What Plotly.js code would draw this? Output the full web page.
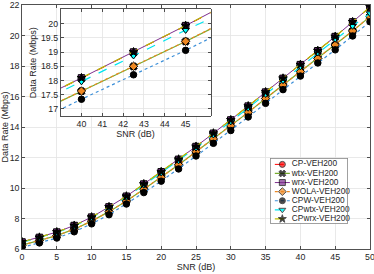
<!DOCTYPE html>
<html><head><meta charset="utf-8">
<script src="https://cdn.plot.ly/plotly-3.0.1.min.js"></script>
<style>html,body{margin:0;padding:0;background:#fff}#c{width:374px;height:274px}</style>
</head><body><div id="c"></div>
<script>
var snr = [0,2.5,5,7.5,10,12.5,15,17.5,20,22.5,25,27.5,30,32.5,35,37.5,40,42.5,45,47.5,50];
var cp    = [6.45,6.75,7.10,7.53,8.08,8.75,9.45,10.25,11.05,11.87,12.71,13.58,14.45,15.36,16.28,17.18,18.08,18.99,19.92,20.88,21.86];
var wtx   = [6.25,6.55,6.88,7.30,7.83,8.45,9.15,9.92,10.70,11.52,12.38,13.22,14.08,14.96,15.87,16.75,17.62,18.49,19.37,20.29,21.24];
var wrx   = [6.46,6.76,7.11,7.54,8.09,8.76,9.46,10.26,11.06,11.88,12.72,13.59,14.46,15.37,16.29,17.19,18.09,19.00,19.93,20.89,21.87];
var wola  = [6.25,6.55,6.88,7.30,7.83,8.45,9.15,9.92,10.70,11.52,12.38,13.22,14.08,14.96,15.87,16.75,17.63,18.50,19.38,20.30,21.25];
var cpw   = [6.10,6.40,6.72,7.13,7.65,8.25,8.95,9.70,10.45,11.25,12.10,12.93,13.77,14.66,15.55,16.45,17.34,18.20,19.06,19.97,20.90];
var cpwtx = [6.43,6.73,7.08,7.50,8.05,8.71,9.41,10.20,10.99,11.80,12.63,13.49,14.35,15.25,16.15,17.05,17.96,18.87,19.77,20.62,21.45];
var cpwrx = [6.46,6.76,7.11,7.54,8.09,8.76,9.46,10.26,11.06,11.88,12.72,13.59,14.46,15.37,16.29,17.19,18.09,19.00,19.93,20.89,21.87];

var names = ['CP-VEH200','wtx-VEH200','wrx-VEH200','WOLA-VEH200','CPW-VEH200','CPwtx-VEH200','CPwrx-VEH200'];
var series = [cp,wtx,wrx,wola,cpw,cpwtx,cpwrx];
var styles = [
  {c:'#FF0000', dash:'dash',   sym:'circle',        face:'#FF0000', w:1},
  {c:'#77AC30', dash:'solid',  sym:'x',             face:'#000000', w:1.2},
  {c:'#7E2F8E', dash:'solid',  sym:'square',        face:'#7E2F8E', w:1},
  {c:'#EE8822', dash:'dot',    sym:'diamond',       face:'#EE8822', w:1.2},
  {c:'#3C8FD8', dash:'dot',    sym:'circle',        face:'#000000', w:1.2},
  {c:'#00E5EE', dash:'dash',   sym:'triangle-down', face:'#00FFFF', w:1.2},
  {c:'#BFBF00', dash:'dash',   sym:'star',          face:'#000000', w:1.2}
];
var F = 'Liberation Sans, Arial, Helvetica, sans-serif';
var TC = '#262626';
var traces = [];
['','2'].forEach(function(ax){
  series.forEach(function(s,i){
    var st = styles[i];
    traces.push({x:snr, y:s, type:'scatter', mode:'lines+markers', showlegend:false,
      xaxis:'x'+ax, yaxis:'y'+ax,
      line:{color:st.c, dash:st.dash, width:st.w},
      marker:{symbol:st.sym, size:6.5, color:st.face, line:{color:'#000', width:1}}});
  });
});
// custom compact legend
names.forEach(function(n,i){
  var st = styles[i];
  traces.push({x:[4,11.5,19], y:[i+1,i+1,i+1], xaxis:'x3', yaxis:'y3', type:'scatter', mode:'lines+markers',
    showlegend:false, hoverinfo:'skip', cliponaxis:false,
    line:{color:st.c, dash:st.dash, width:st.w},
    marker:{symbol:st.sym, size:[0,6,0], color:st.face, line:{color:'#000', width:[0,1,0]}}});
});
traces.push({x:names.map(function(){return 21;}), y:names.map(function(n,i){return i+1;}), text:names,
  xaxis:'x3', yaxis:'y3', type:'scatter', mode:'text', textposition:'middle right', showlegend:false,
  textfont:{family:F, size:8.3, color:TC}, cliponaxis:false});

function axBase(){return {showline:true, linecolor:TC, linewidth:0.8, mirror:'ticks', ticks:'inside', ticklen:3,
  tickcolor:TC, tickwidth:0.8, showgrid:true, gridcolor:'#e3e3e3', gridwidth:0.8, zeroline:false,
  ticklabeloverflow:'allow', tickfont:{family:F, size:8.8, color:TC}};}
var TF = {family:F,size:9,color:TC};
var xa = axBase(); xa.range=[0,50]; xa.tickvals=[0,5,10,15,20,25,30,35,40,45,50];
xa.title={text:'SNR (dB)', font:TF, standoff:1}; xa.domain=[0,1]; xa.anchor='y';
var ya = axBase(); ya.range=[6,22]; ya.tickvals=[6,8,10,12,14,16,18,20,22];
ya.title={text:'Data Rate (Mbps)', font:TF, standoff:3}; ya.domain=[0,1]; ya.anchor='x';
var xa2 = axBase(); xa2.range=[39,46.2]; xa2.tickvals=[40,41,42,43,44,45];
xa2.title={text:'SNR (dB)', font:TF, standoff:1}; xa2.domain=[0.111,0.542]; xa2.anchor='y2';
var ya2 = axBase(); ya2.range=[16.75,20.5]; ya2.tickvals=[17,17.5,18,18.5,19,19.5,20];
ya2.title={text:'Data Rate (Mbps)', font:TF, standoff:2}; ya2.domain=[0.545,0.982]; ya2.anchor='x2';
var xa3 = {domain:[0.715,0.934], range:[0,76], anchor:'y3', showgrid:false, zeroline:false, showticklabels:false,
  showline:true, mirror:true, linecolor:'#888', linewidth:0.8, ticks:'', fixedrange:true};
var ya3 = {domain:[0.107,0.371], range:[7.44,0.35], anchor:'x3', showgrid:false, zeroline:false, showticklabels:false,
  showline:true, mirror:true, linecolor:'#888', linewidth:0.8, ticks:'', fixedrange:true};

var layout = {width:374, height:274, margin:{l:22,r:4,t:5,b:25}, paper_bgcolor:'#fff', plot_bgcolor:'#fff',
  font:{family:F, size:8, color:TC}, showlegend:false,
  xaxis:xa, yaxis:ya, xaxis2:xa2, yaxis2:ya2, xaxis3:xa3, yaxis3:ya3};
Plotly.newPlot('c', traces, layout, {displayModeBar:false, staticPlot:true});
</script></body></html>
